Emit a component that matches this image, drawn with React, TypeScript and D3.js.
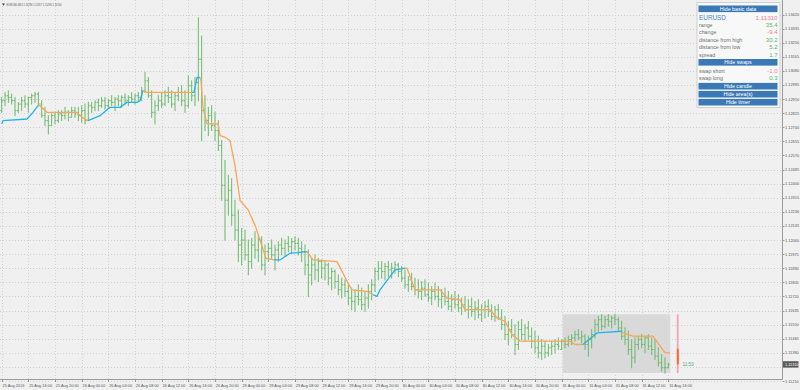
import React from "react";
import * as d3 from "d3";

// ---------- data ----------
const symbol = "EURUSD";
const titleText = "EURUSD,M15  1.11290 1.11317 1.11290 1.11310";

const timeLabels = [
  "25 Aug 2016", "25 Aug 16:00", "25 Aug 20:00", "26 Aug 00:00", "26 Aug 04:00", "26 Aug 08:00",
  "26 Aug 12:00", "26 Aug 16:00", "26 Aug 20:00", "29 Aug 00:00", "29 Aug 04:00", "29 Aug 08:00",
  "29 Aug 12:00", "29 Aug 16:00", "29 Aug 20:00", "30 Aug 00:00", "30 Aug 04:00", "30 Aug 08:00",
  "30 Aug 12:00", "30 Aug 16:00", "30 Aug 20:00", "31 Aug 00:00", "31 Aug 04:00", "31 Aug 08:00",
  "31 Aug 12:00", "31 Aug 16:00",
];
const barsPerLabel = 8;

const priceTicks = [
  1.1342, 1.13335, 1.1325, 1.13165, 1.1308, 1.12995, 1.1291, 1.12825, 1.1274, 1.12655, 1.1257,
  1.12485, 1.124, 1.12315, 1.1223, 1.12145, 1.1206, 1.11975, 1.1189, 1.11805, 1.1172, 1.11635,
  1.1155, 1.11465, 1.1138, 1.11295, 1.1121,
];

const opens = [
  1.1284, 1.1290, 1.1293, 1.1292, 1.1290, 1.1284, 1.1288, 1.1290, 1.1288, 1.1292,
  1.1293, 1.1294, 1.1288, 1.1281, 1.1278, 1.1275, 1.1281, 1.1278, 1.1282, 1.1281,
  1.1283, 1.1280, 1.1284, 1.1282, 1.1281, 1.1284, 1.1278, 1.1287, 1.1286, 1.1289,
  1.1287, 1.1290, 1.1287, 1.1290, 1.1289, 1.1291, 1.1290, 1.1292, 1.1290, 1.1292,
  1.1291, 1.1293, 1.1292, 1.1296, 1.1302, 1.1293, 1.1283, 1.1287, 1.1290, 1.1288,
  1.1293, 1.1292, 1.1288, 1.1293, 1.1295, 1.1290, 1.1287, 1.1299, 1.1293, 1.1301,
  1.1315, 1.1284, 1.1278, 1.1281, 1.1275, 1.1272, 1.1263, 1.1239, 1.1230, 1.1236,
  1.1221, 1.1212, 1.1203, 1.1206, 1.1197, 1.1193, 1.1203, 1.1200, 1.1206, 1.1191,
  1.1199, 1.1201, 1.1197, 1.1200, 1.1203, 1.1201, 1.1204, 1.1202, 1.1205, 1.1204,
  1.1201, 1.1199, 1.1191, 1.1185, 1.1191, 1.1188, 1.1193, 1.1189, 1.1191, 1.1183,
  1.1187, 1.1181, 1.1176, 1.1179, 1.1175, 1.1171, 1.1169, 1.1172, 1.1170, 1.1167,
  1.1171, 1.1175, 1.1179, 1.1187, 1.1189, 1.1187, 1.1190, 1.1188, 1.1189, 1.1191,
  1.1187, 1.1183, 1.1179, 1.1182, 1.1178, 1.1176, 1.1175, 1.1177, 1.1173, 1.1171,
  1.1175, 1.1172, 1.1170, 1.1172, 1.1169, 1.1166, 1.1170, 1.1167, 1.1165, 1.1167,
  1.1164, 1.1166, 1.1163, 1.1165, 1.1161, 1.1164, 1.1166, 1.1163, 1.1160, 1.1164,
  1.1159, 1.1155, 1.1149, 1.1152, 1.1149, 1.1143, 1.1152, 1.1149, 1.1153, 1.1148,
  1.1145, 1.1141, 1.1138, 1.1142, 1.1138, 1.1141, 1.1142, 1.1143, 1.1140, 1.1145,
  1.1143, 1.1146, 1.1147, 1.1149, 1.1147, 1.1148, 1.1143, 1.1146, 1.1149, 1.1155,
  1.1158, 1.1154, 1.1158, 1.1157, 1.1159, 1.1158, 1.1153, 1.1148, 1.1146, 1.1140,
  1.1135, 1.1143, 1.1146, 1.1143, 1.1147, 1.1142, 1.1140, 1.1136, 1.1132, 1.1129,
  1.1129,
];
const highs = [
  1.1292, 1.1295, 1.1296, 1.1294, 1.1292, 1.1289, 1.1292, 1.1293, 1.1292, 1.1294,
  1.1295, 1.1295, 1.1290, 1.1286, 1.1281, 1.1283, 1.1283, 1.1284, 1.1284, 1.1286,
  1.1284, 1.1286, 1.1286, 1.1286, 1.1287, 1.1288, 1.1289, 1.1289, 1.1290, 1.1291,
  1.1292, 1.1292, 1.1291, 1.1293, 1.1292, 1.1293, 1.1293, 1.1294, 1.1293, 1.1295,
  1.1294, 1.1295, 1.1298, 1.1307, 1.1304, 1.1296, 1.1290, 1.1293, 1.1295, 1.1296,
  1.1298, 1.1296, 1.1295, 1.1298, 1.1299, 1.1296, 1.1305, 1.1302, 1.1304, 1.1340,
  1.1329, 1.1293, 1.1286, 1.1287, 1.1283, 1.1278, 1.1266, 1.1254, 1.1245, 1.1243,
  1.1230, 1.1224, 1.1213, 1.1212, 1.1206, 1.1207, 1.1211, 1.1209, 1.1208, 1.1203,
  1.1204, 1.1206, 1.1203, 1.1205, 1.1207, 1.1206, 1.1208, 1.1207, 1.1208, 1.1207,
  1.1205, 1.1203, 1.1200, 1.1195, 1.1197, 1.1195, 1.1194, 1.1193, 1.1192, 1.1189,
  1.1188, 1.1185, 1.1183, 1.1182, 1.1179, 1.1177, 1.1176, 1.1179, 1.1177, 1.1175,
  1.1179, 1.1182, 1.1189, 1.1193, 1.1193, 1.1192, 1.1193, 1.1192, 1.1193, 1.1192,
  1.1190, 1.1188, 1.1184, 1.1186, 1.1183, 1.1182, 1.1181, 1.1182, 1.1180, 1.1178,
  1.1180, 1.1178, 1.1176, 1.1177, 1.1175, 1.1173, 1.1175, 1.1173, 1.1171, 1.1172,
  1.1170, 1.1171, 1.1169, 1.1170, 1.1167, 1.1169, 1.1170, 1.1167, 1.1166, 1.1167,
  1.1164, 1.1160, 1.1157, 1.1158, 1.1155, 1.1157, 1.1158, 1.1155, 1.1157, 1.1153,
  1.1151, 1.1148, 1.1146, 1.1145, 1.1143, 1.1145, 1.1146, 1.1147, 1.1146, 1.1147,
  1.1148, 1.1149, 1.1151, 1.1152, 1.1151, 1.1149, 1.1148, 1.1152, 1.1158, 1.1160,
  1.1161, 1.1160, 1.1161, 1.1160, 1.11612, 1.1159, 1.1157, 1.1153, 1.1151, 1.1146,
  1.1147, 1.1148, 1.1149, 1.1148, 1.1149, 1.1147, 1.1146, 1.1141, 1.1137, 1.1135,
  1.11317,
];
const lows = [
  1.1283, 1.1287, 1.1289, 1.1288, 1.1281, 1.1283, 1.1284, 1.1286, 1.1283, 1.1288,
  1.1289, 1.1287, 1.1280, 1.1275, 1.1270, 1.1275, 1.1276, 1.1277, 1.1278, 1.1279,
  1.1278, 1.1280, 1.1280, 1.1278, 1.1277, 1.1276, 1.1278, 1.1283, 1.1284, 1.1284,
  1.1286, 1.1285, 1.1286, 1.1287, 1.1284, 1.1287, 1.1286, 1.1288, 1.1287, 1.1289,
  1.1288, 1.1290, 1.1290, 1.1295, 1.1292, 1.1280, 1.1276, 1.1284, 1.1286, 1.1287,
  1.1289, 1.1286, 1.1284, 1.1290, 1.1287, 1.1283, 1.1286, 1.1290, 1.1287, 1.1290,
  1.1266, 1.1272, 1.1269, 1.1272, 1.1266, 1.1260, 1.1230, 1.1206, 1.1221, 1.1215,
  1.1206, 1.1193, 1.1191, 1.1194, 1.1185, 1.1189, 1.1195, 1.1193, 1.1188, 1.1185,
  1.1193, 1.1195, 1.1188, 1.1193, 1.1197, 1.1196, 1.1199, 1.1198, 1.1200, 1.1197,
  1.1193, 1.1185, 1.1172, 1.1179, 1.1182, 1.1181, 1.1183, 1.1182, 1.1179, 1.1176,
  1.1177, 1.1173, 1.1171, 1.1172, 1.1167, 1.1164, 1.1163, 1.1167, 1.1164, 1.1163,
  1.1165, 1.1170, 1.1175, 1.1182, 1.1183, 1.1182, 1.1184, 1.1183, 1.1186, 1.1184,
  1.1181, 1.1177, 1.1175, 1.1176, 1.1173, 1.1171, 1.1170, 1.1172, 1.1169, 1.1167,
  1.1170, 1.1166, 1.1165, 1.1167, 1.1164, 1.1163, 1.1165, 1.1163, 1.1161, 1.1163,
  1.1159, 1.1160, 1.1158, 1.1159, 1.1157, 1.1159, 1.1160, 1.1158, 1.1157, 1.1158,
  1.1152, 1.1146, 1.1143, 1.1147, 1.1137, 1.1140, 1.1146, 1.1145, 1.1146, 1.1141,
  1.1138, 1.1135, 1.1134, 1.1135, 1.1136, 1.1137, 1.1138, 1.1140, 1.1140, 1.1141,
  1.1142, 1.1143, 1.1145, 1.1146, 1.1144, 1.1140, 1.1136, 1.1141, 1.1147, 1.1151,
  1.1152, 1.1153, 1.1154, 1.1153, 1.1155, 1.1151, 1.1146, 1.1143, 1.1137, 1.1129,
  1.1132, 1.1140, 1.1141, 1.1138, 1.1140, 1.1137, 1.1134, 1.1130, 1.1127, 1.11258,
  1.1129,
];
const closes = [
  1.1290, 1.1293, 1.1292, 1.1290, 1.1284, 1.1288, 1.1290, 1.1288, 1.1292, 1.1293,
  1.1294, 1.1288, 1.1281, 1.1278, 1.1275, 1.1281, 1.1278, 1.1282, 1.1281, 1.1283,
  1.1280, 1.1284, 1.1282, 1.1281, 1.1284, 1.1278, 1.1287, 1.1286, 1.1289, 1.1287,
  1.1290, 1.1287, 1.1290, 1.1289, 1.1291, 1.1290, 1.1292, 1.1290, 1.1292, 1.1291,
  1.1293, 1.1292, 1.1296, 1.1302, 1.1293, 1.1283, 1.1287, 1.1290, 1.1288, 1.1293,
  1.1292, 1.1288, 1.1293, 1.1295, 1.1290, 1.1287, 1.1299, 1.1293, 1.1301, 1.1315,
  1.1284, 1.1278, 1.1281, 1.1275, 1.1272, 1.1263, 1.1239, 1.1230, 1.1236, 1.1221,
  1.1212, 1.1203, 1.1206, 1.1197, 1.1193, 1.1203, 1.1200, 1.1206, 1.1191, 1.1199,
  1.1201, 1.1197, 1.1200, 1.1203, 1.1201, 1.1204, 1.1202, 1.1205, 1.1204, 1.1201,
  1.1199, 1.1191, 1.1185, 1.1191, 1.1188, 1.1193, 1.1189, 1.1191, 1.1183, 1.1187,
  1.1181, 1.1176, 1.1179, 1.1175, 1.1171, 1.1169, 1.1172, 1.1170, 1.1167, 1.1171,
  1.1175, 1.1179, 1.1187, 1.1189, 1.1187, 1.1190, 1.1188, 1.1189, 1.1191, 1.1187,
  1.1183, 1.1179, 1.1182, 1.1178, 1.1176, 1.1175, 1.1177, 1.1173, 1.1171, 1.1175,
  1.1172, 1.1170, 1.1172, 1.1169, 1.1166, 1.1170, 1.1167, 1.1165, 1.1167, 1.1164,
  1.1166, 1.1163, 1.1165, 1.1161, 1.1164, 1.1166, 1.1163, 1.1160, 1.1164, 1.1159,
  1.1155, 1.1149, 1.1152, 1.1149, 1.1143, 1.1152, 1.1149, 1.1153, 1.1148, 1.1145,
  1.1141, 1.1138, 1.1142, 1.1138, 1.1141, 1.1142, 1.1143, 1.1142, 1.1145, 1.1143,
  1.1146, 1.1147, 1.1149, 1.1147, 1.1148, 1.1143, 1.1146, 1.1149, 1.1155, 1.1158,
  1.1154, 1.1158, 1.1157, 1.1159, 1.1158, 1.1153, 1.1148, 1.1146, 1.1140, 1.1135,
  1.1143, 1.1146, 1.1143, 1.1147, 1.1142, 1.1140, 1.1136, 1.1132, 1.1129, 1.1129,
  1.1131,
];

// trailing step indicator: vertex bar positions, levels, and trend of the segment ending at each vertex (1 = up/blue, -1 = down/orange)
const stepIdx = [
  0, 0.4, 7.6, 9.4, 10.9, 11.5, 13.6, 22.6, 24.1, 25.9,
  29.5, 32.5, 35.5, 37.6, 40.6, 41.5, 42.4, 43.6, 57.1, 57.7,
  58.6, 59.5, 59.8, 60.4, 61.6, 64.9, 65.5, 67, 68.5, 70,
  71.5, 74, 76, 78, 79.3, 81.7, 83.5, 86.5, 91.6, 93.4,
  100.6, 102.4, 103.9, 105.1, 109.6, 111.4, 112.6, 113.5, 118, 121,
  121.6, 124, 131.5, 133.6, 137.5, 139, 146.5, 148.6, 151, 153.1,
  155.5, 170.5, 172, 174.4, 175, 178.6, 186.1, 186.4, 189.4, 195.4,
  199, 200.5,
];
const stepPrice = [
  1.1276, 1.1278, 1.1279, 1.1283, 1.1287, 1.1287, 1.1283, 1.1283, 1.1280, 1.1278,
  1.1281, 1.1286, 1.1286, 1.1289, 1.1289, 1.1290, 1.1296, 1.1295, 1.1295, 1.1295,
  1.1304, 1.1304, 1.1302, 1.1286, 1.1276, 1.1276, 1.1269, 1.1268, 1.1266, 1.1251,
  1.1230, 1.1224, 1.1215, 1.1203, 1.1195, 1.1194, 1.1194, 1.1198, 1.1199, 1.1194,
  1.1193, 1.1186, 1.1180, 1.1176, 1.1175, 1.1173, 1.1172, 1.1176, 1.1188, 1.1189,
  1.1189, 1.1176, 1.1176, 1.1171, 1.1170, 1.1164, 1.1164, 1.1159, 1.1157, 1.1149,
  1.1145, 1.1145, 1.1143, 1.1143, 1.1144, 1.1150, 1.1151, 1.1150, 1.1148, 1.1148,
  1.1138, 1.1138,
];
const stepTrend = [
  1, 1, 1, 1, 1, -1, -1, -1, -1, -1,
  1, 1, 1, 1, 1, 1, 1, -1, -1, 1,
  1, 1, -1, -1, -1, -1, -1, -1, -1, -1,
  -1, -1, -1, -1, -1, -1, 1, 1, 1, -1,
  -1, -1, -1, -1, -1, -1, 1, 1, 1, 1,
  -1, -1, -1, -1, -1, -1, -1, -1, -1, -1,
  -1, -1, -1, -1, 1, 1, 1, -1, -1, -1,
  -1, -1,
];

// daily area / candle / panel values
const areaStartIndex = 168;
const dayOpen = 1.11404;
const dayHigh = 1.11612;
const dayLow = 1.11258;
const lastPrice = 1.1131;
const timerText = "11:53";

const basicLabels = ["range", "change", "distance from high", "distance from low", "spread"];
const basicValues = [35.4, -9.4, 30.2, 5.2, 1.7];
const swapLabels = ["swap short", "swap long"];
const swapValues = [-1.0, 0.3];
const buttonLabels = ["Hide basic data", "Hide swaps", "Hide candle", "Hide area(s)", "Hide timer"];

// ---------- component ----------
export default function App() {
  const W = 800;
  const H = 390;
  const plotRight = 782;
  const plotBottom = 379;
  const font = "'Liberation Sans', Arial, sans-serif";

  const x = d3.scaleLinear().domain([0, 200]).range([1.67, 668.33]);
  const y = d3.scaleLinear().domain([1.1121, 1.1342]).range([381, 14.5]);

  const barColor = "#6cb86c";
  const upColor = "#20b4ee";
  const downColor = "#f9a55a";
  const gridColor = "#d2d2d2";

  type Run = { t: number; pts: [number, number][] };
  const runs: Run[] = [];
  let cur: Run | null = null;
  for (let k = 1; k < stepIdx.length; k++) {
    const t = stepTrend[k];
    if (!cur || cur.t !== t) {
      cur = { t, pts: [[stepIdx[k - 1], stepPrice[k - 1]]] };
      runs.push(cur);
    }
    cur.pts.push([stepIdx[k], stepPrice[k]]);
  }
  const line = d3
    .line<[number, number]>()
    .x((d) => x(d[0]))
    .y((d) => y(d[1]));

  const yLast = y(lastPrice);

  const pX = 697;
  const pW = 83;
  const bX = 698.5;
  const bW = 79;
  const bH = 6.6;
  const buttonCy = [8.8, 62.3, 86.2, 94.2, 102.2];
  const basicCy = [25, 32.4, 40, 47.4, 54.8];
  const swapCy = [70.8, 78.3];
  const pink = "#e77c9e";
  const green = "#55b86d";
  const valColor = (v: number) => (v < 0 ? pink : green);

  return (
    <svg
      width={W}
      height={H}
      viewBox={`0 0 ${W} ${H}`}
      style={{ position: "absolute", left: 0, top: 0, display: "block" }}
      fontFamily={font}
    >
      <rect x={0} y={0} width={W} height={H} fill="#f0f0f0" />

      {priceTicks.map((p, i) => (
        <line
          key={"hg" + i}
          x1={0}
          x2={plotRight}
          y1={Math.round(y(p)) + 0.5}
          y2={Math.round(y(p)) + 0.5}
          stroke={gridColor}
          strokeDasharray="1 2"
        />
      ))}
      {timeLabels.map((_, k) => (
        <line
          key={"vg" + k}
          x1={Math.round(x(k * barsPerLabel)) + 0.5}
          x2={Math.round(x(k * barsPerLabel)) + 0.5}
          y1={0}
          y2={plotBottom}
          stroke={gridColor}
          strokeDasharray="1 2"
        />
      ))}

      <rect
        x={x(areaStartIndex) + 1}
        y={y(dayHigh)}
        width={x(closes.length - 1) + 1 - x(areaStartIndex)}
        height={y(dayLow) - y(dayHigh)}
        fill="#d9d9d9"
      />

      <g stroke={barColor} strokeWidth={1}>
        {closes.map((c, i) => {
          const xi = x(i);
          return (
            <g key={"b" + i}>
              <line x1={xi} x2={xi} y1={y(highs[i]) - 0.5} y2={y(lows[i]) + 0.5} />
              <line x1={xi - 1.4} x2={xi} y1={y(opens[i])} y2={y(opens[i])} />
              <line x1={xi} x2={xi + 1.4} y1={y(c)} y2={y(c)} />
            </g>
          );
        })}
      </g>

      {runs.map((r, i) => (
        <path
          key={"r" + i}
          d={line(r.pts) || ""}
          fill="none"
          stroke={r.t > 0 ? upColor : downColor}
          strokeWidth={1.3}
          strokeLinejoin="round"
        />
      ))}

      <line x1={677.7} x2={677.7} y1={y(dayHigh)} y2={y(dayLow)} stroke="#f1a3b6" strokeWidth={1.8} />
      <rect x={676.8} y={y(dayOpen)} width={2} height={y(lastPrice) - y(dayOpen)} fill="#ff6633" />
      <text x={682.5} y={yLast} dominantBaseline="central" fontSize={4.6} fill="#4fae74">
        {timerText}
      </text>

      <line x1={plotRight + 0.5} x2={plotRight + 0.5} y1={0} y2={plotBottom + 0.5} stroke="#9a9a9a" />
      <line x1={0} x2={plotRight + 0.5} y1={plotBottom + 0.5} y2={plotBottom + 0.5} stroke="#9a9a9a" />

      {priceTicks.map((p, i) =>
        Math.abs(y(p) - yLast) < 5 ? null : (
          <g key={"yl" + i}>
            <line x1={plotRight + 0.5} x2={plotRight + 2.5} y1={Math.round(y(p)) + 0.5} y2={Math.round(y(p)) + 0.5} stroke="#9a9a9a" />
            <text x={785} y={y(p)} dominantBaseline="central" fontSize={3.9} fill="#555">
              {p.toFixed(5)}
            </text>
          </g>
        )
      )}
      <rect x={783} y={yLast - 3.2} width={15.5} height={6.4} fill="#5a5a5a" />
      <text x={785} y={yLast} dominantBaseline="central" fontSize={3.9} fill="#ffffff">
        {lastPrice.toFixed(5)}
      </text>

      {timeLabels.map((t, k) => (
        <g key={"xl" + k}>
          <line
            x1={Math.round(x(k * barsPerLabel)) + 0.5}
            x2={Math.round(x(k * barsPerLabel)) + 0.5}
            y1={plotBottom + 0.5}
            y2={plotBottom + 3}
            stroke="#9a9a9a"
          />
          <text x={x(k * barsPerLabel) + 0.8} y={386.8} fontSize={3.9} fill="#555">
            {t}
          </text>
        </g>
      ))}

      <path d="M2,3.6 L5,3.6 L3.5,5.8 Z" fill="#444" />
      <text x={6.5} y={6.3} fontSize={3.3} fill="#555" textLength={55} lengthAdjust="spacingAndGlyphs">
        {titleText}
      </text>

      <rect x={pX} y={2.5} width={pW} height={105} fill="#f8f8f8" stroke="#c9c9c9" strokeWidth={0.8} />
      {buttonLabels.map((b, i) => (
        <g key={"btn" + i}>
          <rect x={bX} y={buttonCy[i] - bH / 2} width={bW} height={bH} fill="#3b79b6" />
          <text
            x={bX + bW / 2}
            y={buttonCy[i]}
            textAnchor="middle"
            dominantBaseline="central"
            fontSize={5.3}
            fill="#ffffff"
          >
            {b}
          </text>
        </g>
      ))}
      <text x={699} y={17.4} dominantBaseline="central" fontSize={6.4} fill="#4a87c6">
        {symbol}
      </text>
      <text x={777.5} y={17.4} textAnchor="end" dominantBaseline="central" fontSize={6.2} fill={pink}>
        {lastPrice.toFixed(5)}
      </text>
      {basicLabels.map((l, i) => (
        <g key={"bl" + i}>
          <text x={699} y={basicCy[i]} dominantBaseline="central" fontSize={5.3} fill="#6e6e6e">
            {l}
          </text>
          <text
            x={777.5}
            y={basicCy[i]}
            textAnchor="end"
            dominantBaseline="central"
            fontSize={6}
            fill={valColor(basicValues[i])}
          >
            {basicValues[i].toFixed(1)}
          </text>
        </g>
      ))}
      {swapLabels.map((l, i) => (
        <g key={"sl" + i}>
          <text x={699} y={swapCy[i]} dominantBaseline="central" fontSize={5.3} fill="#6e6e6e">
            {l}
          </text>
          <text
            x={777.5}
            y={swapCy[i]}
            textAnchor="end"
            dominantBaseline="central"
            fontSize={6}
            fill={valColor(swapValues[i])}
          >
            {swapValues[i].toFixed(1)}
          </text>
        </g>
      ))}
    </svg>
  );
}
